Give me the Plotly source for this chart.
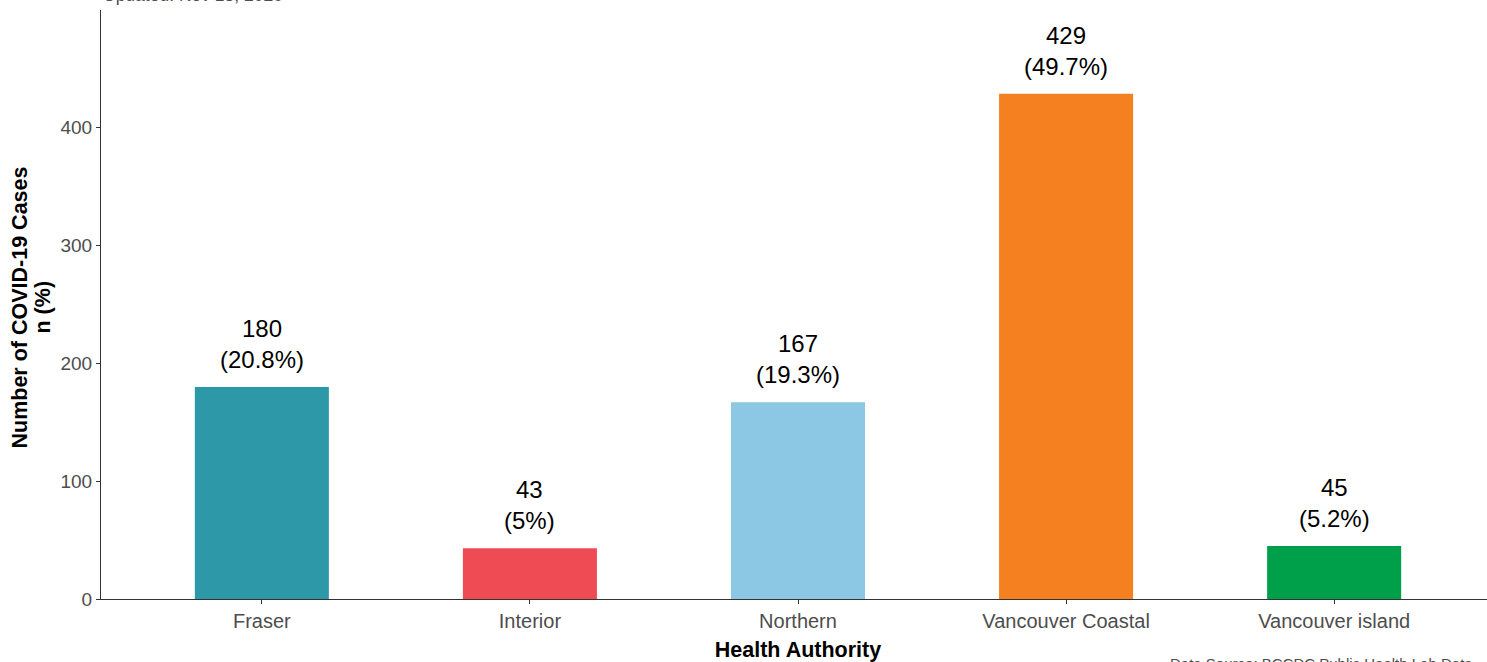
import plotly.graph_objects as go

categories = ["Fraser", "Interior", "Northern", "Vancouver Coastal", "Vancouver island"]
cases = [180, 43, 167, 429, 45]
percents = ["20.8%", "5%", "19.3%", "49.7%", "5.2%"]
colors = ["#2C98A8", "#EF4B55", "#8CC8E3", "#F58020", "#00A04B"]
y_ticks = [0, 100, 200, 300, 400]

xpos = list(range(1, len(categories) + 1))
labels = [f"{n}<br>({p})" for n, p in zip(cases, percents)]

FONT = "Liberation Sans, Arial"
L, T, B, PW = 101, 10, 63, 1394

fig = go.Figure(go.Bar(
    x=xpos, y=cases,
    marker=dict(color=colors, line=dict(width=0)),
    width=0.5,
    hoverinfo="x+y",
))

ann = [
    dict(x=x, y=n, text=t, xref="x", yref="y", xanchor="center", yanchor="bottom",
         yshift=12, showarrow=False,
         font=dict(family=FONT, size=24, color="black"))
    for x, n, t in zip(xpos, cases, labels)
]
ann += [
    dict(text="Updated: Nov 13, 2020", xref="paper", yref="paper", x=0, y=1, xanchor="left",
         yanchor="bottom", yshift=3, showarrow=False,
         font=dict(family=FONT, size=17.5, color="#4D4D4D")),
    dict(text="Data Source: BCCDC Public Health Lab Data", xref="paper", yref="paper",
         x=(1168 - L) / PW, y=0, xanchor="left", yanchor="top", yshift=-54, showarrow=False,
         font=dict(family=FONT, size=15, color="#4D4D4D")),
    dict(text="<b>Number of COVID-19 Cases</b>", xref="paper", yref="paper", x=0, y=0.5,
         xanchor="center", yanchor="middle", xshift=-82, yshift=-3, textangle=-90, showarrow=False,
         font=dict(family=FONT, size=21.5, color="black")),
    dict(text="<b>n (%)</b>", xref="paper", yref="paper", x=0, y=0.5,
         xanchor="center", yanchor="middle", xshift=-59, yshift=-3, textangle=-90, showarrow=False,
         font=dict(family=FONT, size=21.5, color="black")),
]

fig.update_layout(
    width=L + PW, height=662,
    margin=dict(l=L, r=0, t=T, b=B),
    paper_bgcolor="white", plot_bgcolor="white",
    font=dict(family=FONT, color="#4D4D4D"),
    showlegend=False,
    xaxis=dict(
        range=[0.4, 5.6], tickvals=xpos, ticktext=categories, automargin=False,
        showgrid=False, zeroline=False, showline=True, linecolor="#333333", linewidth=1,
        ticks="outside", ticklen=4, tickcolor="#333333",
        tickfont=dict(size=20, color="#4D4D4D"),
        title=dict(text="<b>Health Authority</b>", font=dict(size=21.5, color="black"), standoff=14),
    ),
    yaxis=dict(
        range=[0, 500], tickvals=y_ticks, automargin=False,
        showgrid=False, zeroline=False, showline=True, linecolor="#333333", linewidth=1,
        ticks="outside", ticklen=4, tickcolor="#333333",
        tickfont=dict(size=19, color="#4D4D4D"),
    ),
    annotations=ann,
)

fig.write_html(
    "out.html",
    config={"displayModeBar": False},
    post_script="document.body.style.margin='0';document.body.style.overflow='hidden';",
)
